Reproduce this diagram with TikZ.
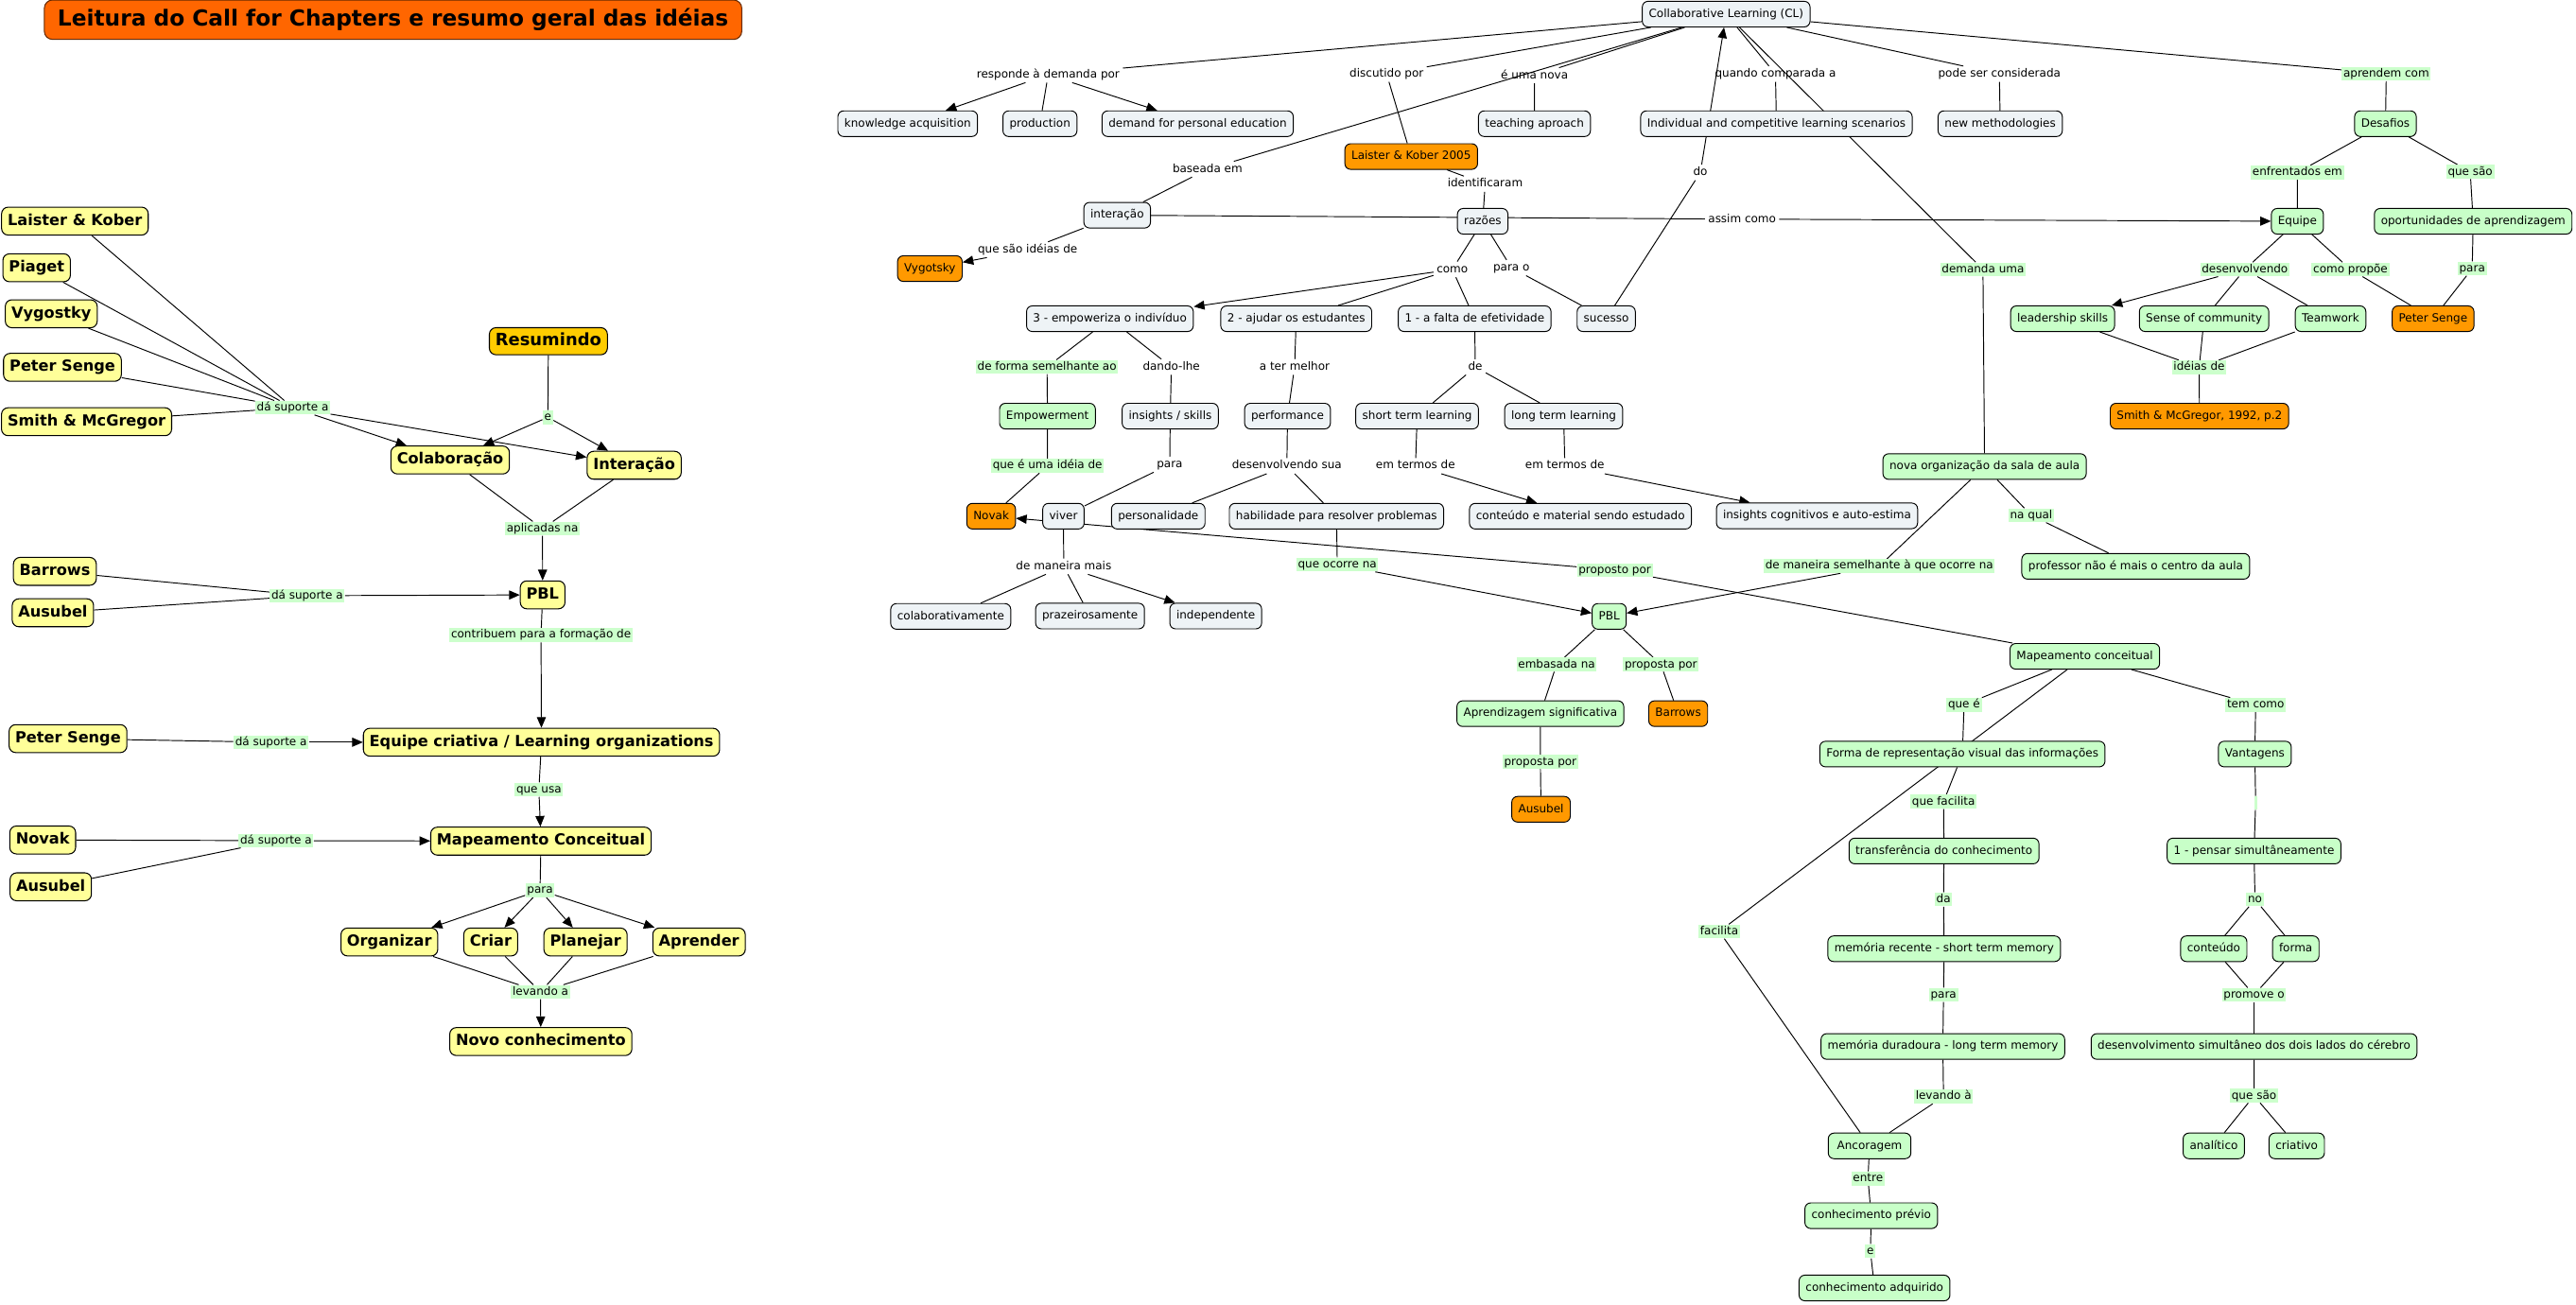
\documentclass[tikz,border=0pt]{standalone}
\usepackage{fontspec}
\setmainfont{DejaVu Sans}
\usetikzlibrary{arrows.meta}
\definecolor{cgray}{HTML}{EEF3F6}
\definecolor{cgreen}{HTML}{C8FFC8}
\definecolor{clab}{HTML}{CCFFCC}
\definecolor{cyellow}{HTML}{FFFF99}
\definecolor{corange}{HTML}{FF9900}
\definecolor{ctitle}{HTML}{FF6600}
\definecolor{cgold}{HTML}{FFCC00}
\pgfdeclarelayer{bgl}
\pgfdeclarelayer{edgel}
\pgfsetlayers{bgl,edgel,main}
\tikzset{
  base/.style={draw=black, line width=0.55pt, rounded corners=3.5pt, inner xsep=4pt, inner ysep=0pt, minimum height=15.6pt, text height=5.3pt, text depth=1.5pt, font=\fontsize{6.9}{8}\selectfont},
  gbox/.style={base, fill=cgray},
  grbox/.style={base, fill=cgreen},
  obox/.style={base, fill=corange},
  ybox/.style={draw=black, line width=0.6pt, rounded corners=4pt, fill=cyellow, inner xsep=3.7pt, inner ysep=0pt, minimum height=17pt, text height=7pt, text depth=1.9pt, font=\fontsize{9.3}{11}\selectfont\bfseries},
  plab/.style={inner xsep=1.8pt, inner ysep=1.2pt, text height=5.3pt, text depth=1.5pt, font=\fontsize{6.9}{8}\selectfont},
  glab/.style={plab, fill=clab, inner xsep=1pt, inner ysep=0.8pt},
  con/.style={line width=0.55pt, draw=black},
  arr/.style={con, -{Triangle[length=6.5pt,width=5.5pt]}},
}
\begin{document}
\begin{tikzpicture}[x=1pt,y=-1pt]
\begin{pgfonlayer}{bgl}\fill[white] (0,0) rectangle (1568,794);\end{pgfonlayer}
\useasboundingbox (0,0) rectangle (1568,794);

% ---------------- left panel ----------------
\node[draw=black!60!ctitle, line width=0.6pt, fill=ctitle, rounded corners=5pt, minimum width=424.5pt, minimum height=24pt, inner sep=0pt, font=\fontsize{13.4}{15}\selectfont\bfseries] (title) at (239.25,12) {Leitura do Call for Chapters e resumo geral das idéias};

\node[ybox] (lk) at (45.6,134.6) {Laister \& Kober};
\node[ybox] (piaget) at (22.3,163) {Piaget};
\node[ybox] (vyg) at (31.2,191) {Vygostky};
\node[ybox] (ps1) at (38,223.6) {Peter Senge};
\node[ybox] (smg) at (52.7,256.7) {Smith \& McGregor};
\node[glab] (l1) at (178.2,248.2) {dá suporte a};
\node[ybox, fill=cgold, font=\fontsize{10.3}{12}\selectfont\bfseries, minimum height=16.5pt] (resum) at (333.8,207.7) {Resumindo};
\node[glab] (le) at (333.5,254) {e};
\node[ybox] (colab) at (274,280) {Colaboração};
\node[ybox] (inter) at (386,283.2) {Interação};
\node[glab] (lapl) at (330.2,321.8) {aplicadas na};
\node[ybox] (barr1) at (33.4,347.8) {Barrows};
\node[ybox] (aus1) at (32.2,373) {Ausubel};
\node[glab] (l2) at (187,362.6) {dá suporte a};
\node[ybox] (pbl1) at (330.3,362.1) {PBL};
\node[glab] (lcontr) at (329.3,386.6) {contribuem para a formação de};
\node[ybox] (ps2) at (41.4,449.6) {Peter Senge};
\node[glab] (l3) at (165,451.8) {dá suporte a};
\node[ybox] (equipe1) at (329.6,451.8) {Equipe criativa / Learning organizations};
\node[glab] (lusa) at (328,480.7) {que usa};
\node[ybox] (novak1) at (26,511.3) {Novak};
\node[ybox] (aus2) at (30.9,539.8) {Ausubel};
\node[glab] (l4) at (168,511.7) {dá suporte a};
\node[ybox] (mapa1) at (329.3,512) {Mapeamento Conceitual};
\node[glab] (lpara1) at (328.7,541.9) {para};
\node[ybox] (org) at (237,573.4) {Organizar};
\node[ybox] (criar) at (298.7,573.4) {Criar};
\node[ybox] (plan) at (356.4,573.4) {Planejar};
\node[ybox] (apr) at (425.5,573.4) {Aprender};
\node[glab] (llev) at (329,603.8) {levando a};
\node[ybox] (novo) at (329.2,634) {Novo conhecimento};

% ---------------- concept map ----------------
\node[gbox] (cl) at (1050.7,8.6) {Collaborative Learning (CL)};
\node[plab] (lresp) at (638,45.5) {responde à demanda por};
\node[gbox] (ka) at (552.5,75.3) {knowledge acquisition};
\node[gbox] (prod) at (633,75.3) {production};
\node[gbox] (dpe) at (729,75.3) {demand for personal education};
\node[plab] (ldisc) at (844,45) {discutido por};
\node[obox] (lk05) at (859,95.3) {Laister \& Kober 2005};
\node[plab] (lnova) at (934,46) {é uma nova};
\node[gbox] (teach) at (934,75.3) {teaching aproach};
\node[plab] (lquando) at (1080.7,45) {quando comparada a};
\node[gbox] (indiv) at (1081.3,75.3) {Individual and competitive learning scenarios};
\node[plab] (lpode) at (1217,45) {pode ser considerada};
\node[gbox] (newm) at (1217.5,75.3) {new methodologies};
\node[glab] (lapr) at (1452.5,45) {aprendem com};
\node[grbox] (desaf) at (1452,75.3) {Desafios};
\node[plab] (lbase) at (735,103) {baseada em};
\node[gbox] (interac) at (680,131) {interação};
\node[plab] (lvyg) at (625.5,152) {que são idéias de};
\node[obox] (vygo) at (566,163.5) {Vygotsky};
\node[plab] (lident) at (904,112) {identificaram};
\node[gbox] (razoes) at (902.5,134.7) {razões};
\node[plab] (lassim) at (1060.4,133.4) {assim como};
\node[grbox] (equipe) at (1398.4,134.7) {Equipe};
\node[glab] (lenfr) at (1398.4,105) {enfrentados em};
\node[glab] (lqsao) at (1503.6,104.6) {que são};
\node[grbox] (oport) at (1505.4,134.7) {oportunidades de aprendizagem};
\node[plab] (ldo) at (1035,105) {do};
\node[plab] (lcomo) at (884,164) {como};
\node[plab] (lparao) at (920,163) {para o};
\node[gbox] (emp3) at (675.6,194) {3 - empoweriza o indivíduo};
\node[gbox] (ajud2) at (789,194) {2 - ajudar os estudantes};
\node[gbox] (falta1) at (897.6,194) {1 - a falta de efetividade};
\node[gbox] (suc) at (977.7,194) {sucesso};
\node[glab] (ldem) at (1207,164) {demanda uma};
\node[glab] (ldesenv) at (1366.4,164) {desenvolvendo};
\node[glab] (lcomop) at (1430.7,164) {como propõe};
\node[glab] (lpara2) at (1504.8,163.5) {para};
\node[grbox] (lead) at (1255.5,194) {leadership skills};
\node[grbox] (sense) at (1341.6,194) {Sense of community};
\node[grbox] (team) at (1418.6,194) {Teamwork};
\node[obox] (ps3) at (1481,194) {Peter Senge};
\node[glab] (lideias) at (1338.6,223.6) {idéias de};
\node[obox] (smg2) at (1338.8,253.3) {Smith \& McGregor, 1992, p.2};
\node[glab] (lforma) at (637.3,223.4) {de forma semelhante ao};
\node[plab] (ldando) at (713,223.4) {dando-lhe};
\node[plab] (lter) at (788,223.4) {a ter melhor};
\node[plab] (lde) at (898,223.4) {de};
\node[grbox] (empw) at (637.6,253.3) {Empowerment};
\node[gbox] (insk) at (712.3,253.3) {insights / skills};
\node[gbox] (perf) at (783.7,253.3) {performance};
\node[gbox] (stl) at (862.6,253.3) {short term learning};
\node[gbox] (ltl) at (951.8,253.3) {long term learning};
\node[glab] (lqeu) at (637.6,283.6) {que é uma idéia de};
\node[plab] (lpara3) at (712,282.7) {para};
\node[plab] (ldsua) at (783.3,283.6) {desenvolvendo sua};
\node[plab] (lterm1) at (861.6,283.6) {em termos de};
\node[plab] (lterm2) at (952.5,283.6) {em termos de};
\node[grbox] (nova) at (1208,284) {nova organização da sala de aula};
\node[obox] (novak2) at (603.3,314.2) {Novak};
\node[gbox] (viver) at (647.3,314.2) {viver};
\node[gbox] (pers) at (705,314.2) {personalidade};
\node[gbox] (habil) at (813.5,314.2) {habilidade para resolver problemas};
\node[gbox] (cont) at (962,314.2) {conteúdo e material sendo estudado};
\node[gbox] (insc) at (1106,314) {insights cognitivos e auto-estima};
\node[glab] (lnaqual) at (1236.4,313.7) {na qual};
\node[plab] (lmais) at (647.5,344.8) {de maneira mais};
\node[glab] (locorre) at (814,343.7) {que ocorre na};
\node[glab] (lprop) at (982.9,347) {proposto por};
\node[glab] (lsemel) at (1143.9,344.6) {de maneira semelhante à que ocorre na};
\node[grbox] (prof) at (1300,344.7) {professor não é mais o centro da aula};
\node[gbox] (colabm) at (578.7,375.2) {colaborativamente};
\node[gbox] (praz) at (663.5,375) {prazeirosamente};
\node[gbox] (indep) at (740,375) {independente};
\node[grbox] (pbl2) at (979.5,375.2) {PBL};
\node[grbox] (mapc) at (1269,399.5) {Mapeamento conceitual};
\node[glab] (lemb) at (947.5,404.5) {embasada na};
\node[glab] (lprop2) at (1011,404.5) {proposta por};
\node[glab] (lquee) at (1195.5,429) {que é};
\node[glab] (ltem) at (1373,429) {tem como};
\node[grbox] (aprsig) at (937.6,434.4) {Aprendizagem significativa};
\node[obox] (barr2) at (1021.5,434.4) {Barrows};
\node[grbox] (forma) at (1194.5,459) {Forma de representação visual das informações};
\node[grbox] (vant) at (1372.5,459) {Vantagens};
\node[glab] (lprop3) at (937.6,463.8) {proposta por};
\node[obox] (aus3) at (938,492.6) {Ausubel};
\node[glab] (lqfac) at (1183,488) {que facilita};
\node[fill=clab, inner sep=0pt, minimum width=2pt, minimum height=8pt] (lempty) at (1373,488.7) {};
\node[grbox] (transf) at (1183.3,518) {transferência do conhecimento};
\node[grbox] (pensar) at (1372,518) {1 - pensar simultâneamente};
\node[glab] (lda) at (1183,547.5) {da};
\node[glab] (lno) at (1372.6,547.5) {no};
\node[glab] (lfac) at (1046.5,567) {facilita};
\node[grbox] (memrec) at (1183.4,577.5) {memória recente - short term memory};
\node[grbox] (conteudo) at (1347.5,577.5) {conteúdo};
\node[grbox] (formab) at (1397.4,577.5) {forma};
\node[glab] (lpara4) at (1183,605.6) {para};
\node[glab] (lpromove) at (1372,605.6) {promove o};
\node[grbox] (memdur) at (1182.6,637) {memória duradoura - long term memory};
\node[grbox] (desenv) at (1372,637) {desenvolvimento simultâneo dos dois lados do cérebro};
\node[glab] (llevand) at (1183,667.5) {levando à};
\node[glab] (lqsao2) at (1372,667) {que são};
\node[grbox, minimum width=50.3pt] (ancor) at (1138,697.5) {Ancoragem};
\node[grbox] (anal) at (1347.5,697.5) {analítico};
\node[grbox] (criat) at (1398,697.5) {criativo};
\node[glab] (lentre) at (1137,717.4) {entre};
\node[grbox] (cprev) at (1139,740) {conhecimento prévio};
\node[glab] (le2) at (1138.5,761.6) {e};
\node[grbox] (cadq) at (1141,784) {conhecimento adquirido};

\begin{pgfonlayer}{edgel}
% left panel
\foreach \s in {lk,piaget,vyg,ps1,smg} \draw[con] (\s) -- (l1);
\draw[arr] (l1) -- (colab);
\draw[arr] (l1) -- (inter);
\draw[con] (resum) -- (le);
\draw[arr] (le) -- (colab);
\draw[arr] (le) -- (inter);
\draw[con] (colab) -- (lapl);
\draw[con] (inter) -- (lapl);
\draw[arr] (lapl) -- (pbl1);
\draw[con] (barr1) -- (l2);
\draw[con] (aus1) -- (l2);
\draw[arr] (l2) -- (pbl1);
\draw[con] (pbl1) -- (lcontr);
\draw[arr] (lcontr) -- (equipe1);
\draw[con] (ps2) -- (l3);
\draw[arr] (l3) -- (equipe1);
\draw[con] (equipe1) -- (lusa);
\draw[arr] (lusa) -- (mapa1);
\draw[con] (novak1) -- (l4);
\draw[con] (aus2) -- (l4);
\draw[arr] (l4) -- (mapa1);
\draw[con] (mapa1) -- (lpara1);
\foreach \t in {org,criar,plan,apr} \draw[arr] (lpara1) -- (\t);
\foreach \s in {org,criar,plan,apr} \draw[con] (\s) -- (llev);
\draw[arr] (llev) -- (novo);
% concept map
\draw[con] (cl) -- (lresp);
\draw[arr] (lresp) -- (ka);
\draw[con] (lresp) -- (prod);
\draw[arr] (lresp) -- (dpe);
\draw[con] (cl) -- (ldisc) -- (lk05);
\draw[con] (cl) -- (lnova) -- (teach);
\draw[con] (cl) -- (lbase) -- (interac);
\draw[con] (cl) -- (lquando) -- (indiv);
\draw[con] (suc) -- (ldo);
\draw[arr] (ldo) -- (cl);
\draw[con] (cl) -- (ldem) -- (nova);
\draw[con] (cl) -- (lpode) -- (newm);
\draw[con] (cl) -- (lapr) -- (desaf);
\draw[con] (lk05) -- (lident) -- (razoes);
\draw[con] (interac) -- (lvyg);
\draw[arr] (lvyg) -- (vygo);
\draw[con] (interac) -- (lassim);
\draw[arr] (lassim) -- (equipe);
\draw[con] (razoes) -- (lcomo);
\draw[arr] (lcomo) -- (emp3);
\draw[con] (lcomo) -- (ajud2);
\draw[con] (lcomo) -- (falta1);
\draw[con] (razoes) -- (lparao) -- (suc);
\draw[con] (desaf) -- (lenfr) -- (equipe);
\draw[con] (desaf) -- (lqsao) -- (oport);
\draw[con] (equipe) -- (ldesenv);
\draw[arr] (ldesenv) -- (lead);
\draw[con] (ldesenv) -- (sense);
\draw[con] (ldesenv) -- (team);
\draw[con] (equipe) -- (lcomop) -- (ps3);
\draw[con] (oport) -- (lpara2) -- (ps3);
\foreach \s in {lead,sense,team} \draw[con] (\s) -- (lideias);
\draw[con] (lideias) -- (smg2);
\draw[con] (emp3) -- (lforma) -- (empw);
\draw[con] (emp3) -- (ldando) -- (insk);
\draw[con] (ajud2) -- (lter) -- (perf);
\draw[con] (falta1) -- (lde) -- (stl);
\draw[con] (lde) -- (ltl);
\draw[con] (empw) -- (lqeu) -- (novak2);
\draw[con] (insk) -- (lpara3) -- (viver);
\draw[con] (perf) -- (ldsua) -- (pers);
\draw[con] (ldsua) -- (habil);
\draw[con] (stl) -- (lterm1);
\draw[arr] (lterm1) -- (cont);
\draw[con] (ltl) -- (lterm2);
\draw[arr] (lterm2) -- (insc);
\draw[con] (viver) -- (lmais) -- (colabm);
\draw[con] (lmais) -- (praz);
\draw[arr] (lmais) -- (indep);
\draw[con] (habil) -- (locorre);
\draw[arr] (locorre) -- (pbl2);
\draw[con] (mapc) -- (lprop);
\draw[arr] (lprop) -- (novak2);
\draw[con] (nova) -- (lsemel);
\draw[arr] (lsemel) -- (pbl2);
\draw[con] (nova) -- (lnaqual) -- (prof);
\draw[con] (pbl2) -- (lemb) -- (aprsig);
\draw[con] (pbl2) -- (lprop2) -- (barr2);
\draw[con] (aprsig) -- (lprop3) -- (aus3);
\draw[con] (mapc) -- (lquee) -- (forma);
\draw[con] (mapc) -- (lfac) -- (ancor);
\draw[con] (mapc) -- (ltem) -- (vant);
\draw[con] (vant) -- (lempty) -- (pensar);
\draw[con] (forma) -- (lqfac) -- (transf);
\draw[con] (transf) -- (lda) -- (memrec);
\draw[con] (memrec) -- (lpara4) -- (memdur);
\draw[con] (memdur) -- (llevand) -- (ancor);
\draw[con] (ancor) -- (lentre) -- (cprev) -- (le2) -- (cadq);
\draw[con] (pensar) -- (lno) -- (conteudo);
\draw[con] (lno) -- (formab);
\draw[con] (conteudo) -- (lpromove);
\draw[con] (formab) -- (lpromove);
\draw[con] (lpromove) -- (desenv);
\draw[con] (desenv) -- (lqsao2) -- (anal);
\draw[con] (lqsao2) -- (criat);
\end{pgfonlayer}
\end{tikzpicture}
\end{document}
